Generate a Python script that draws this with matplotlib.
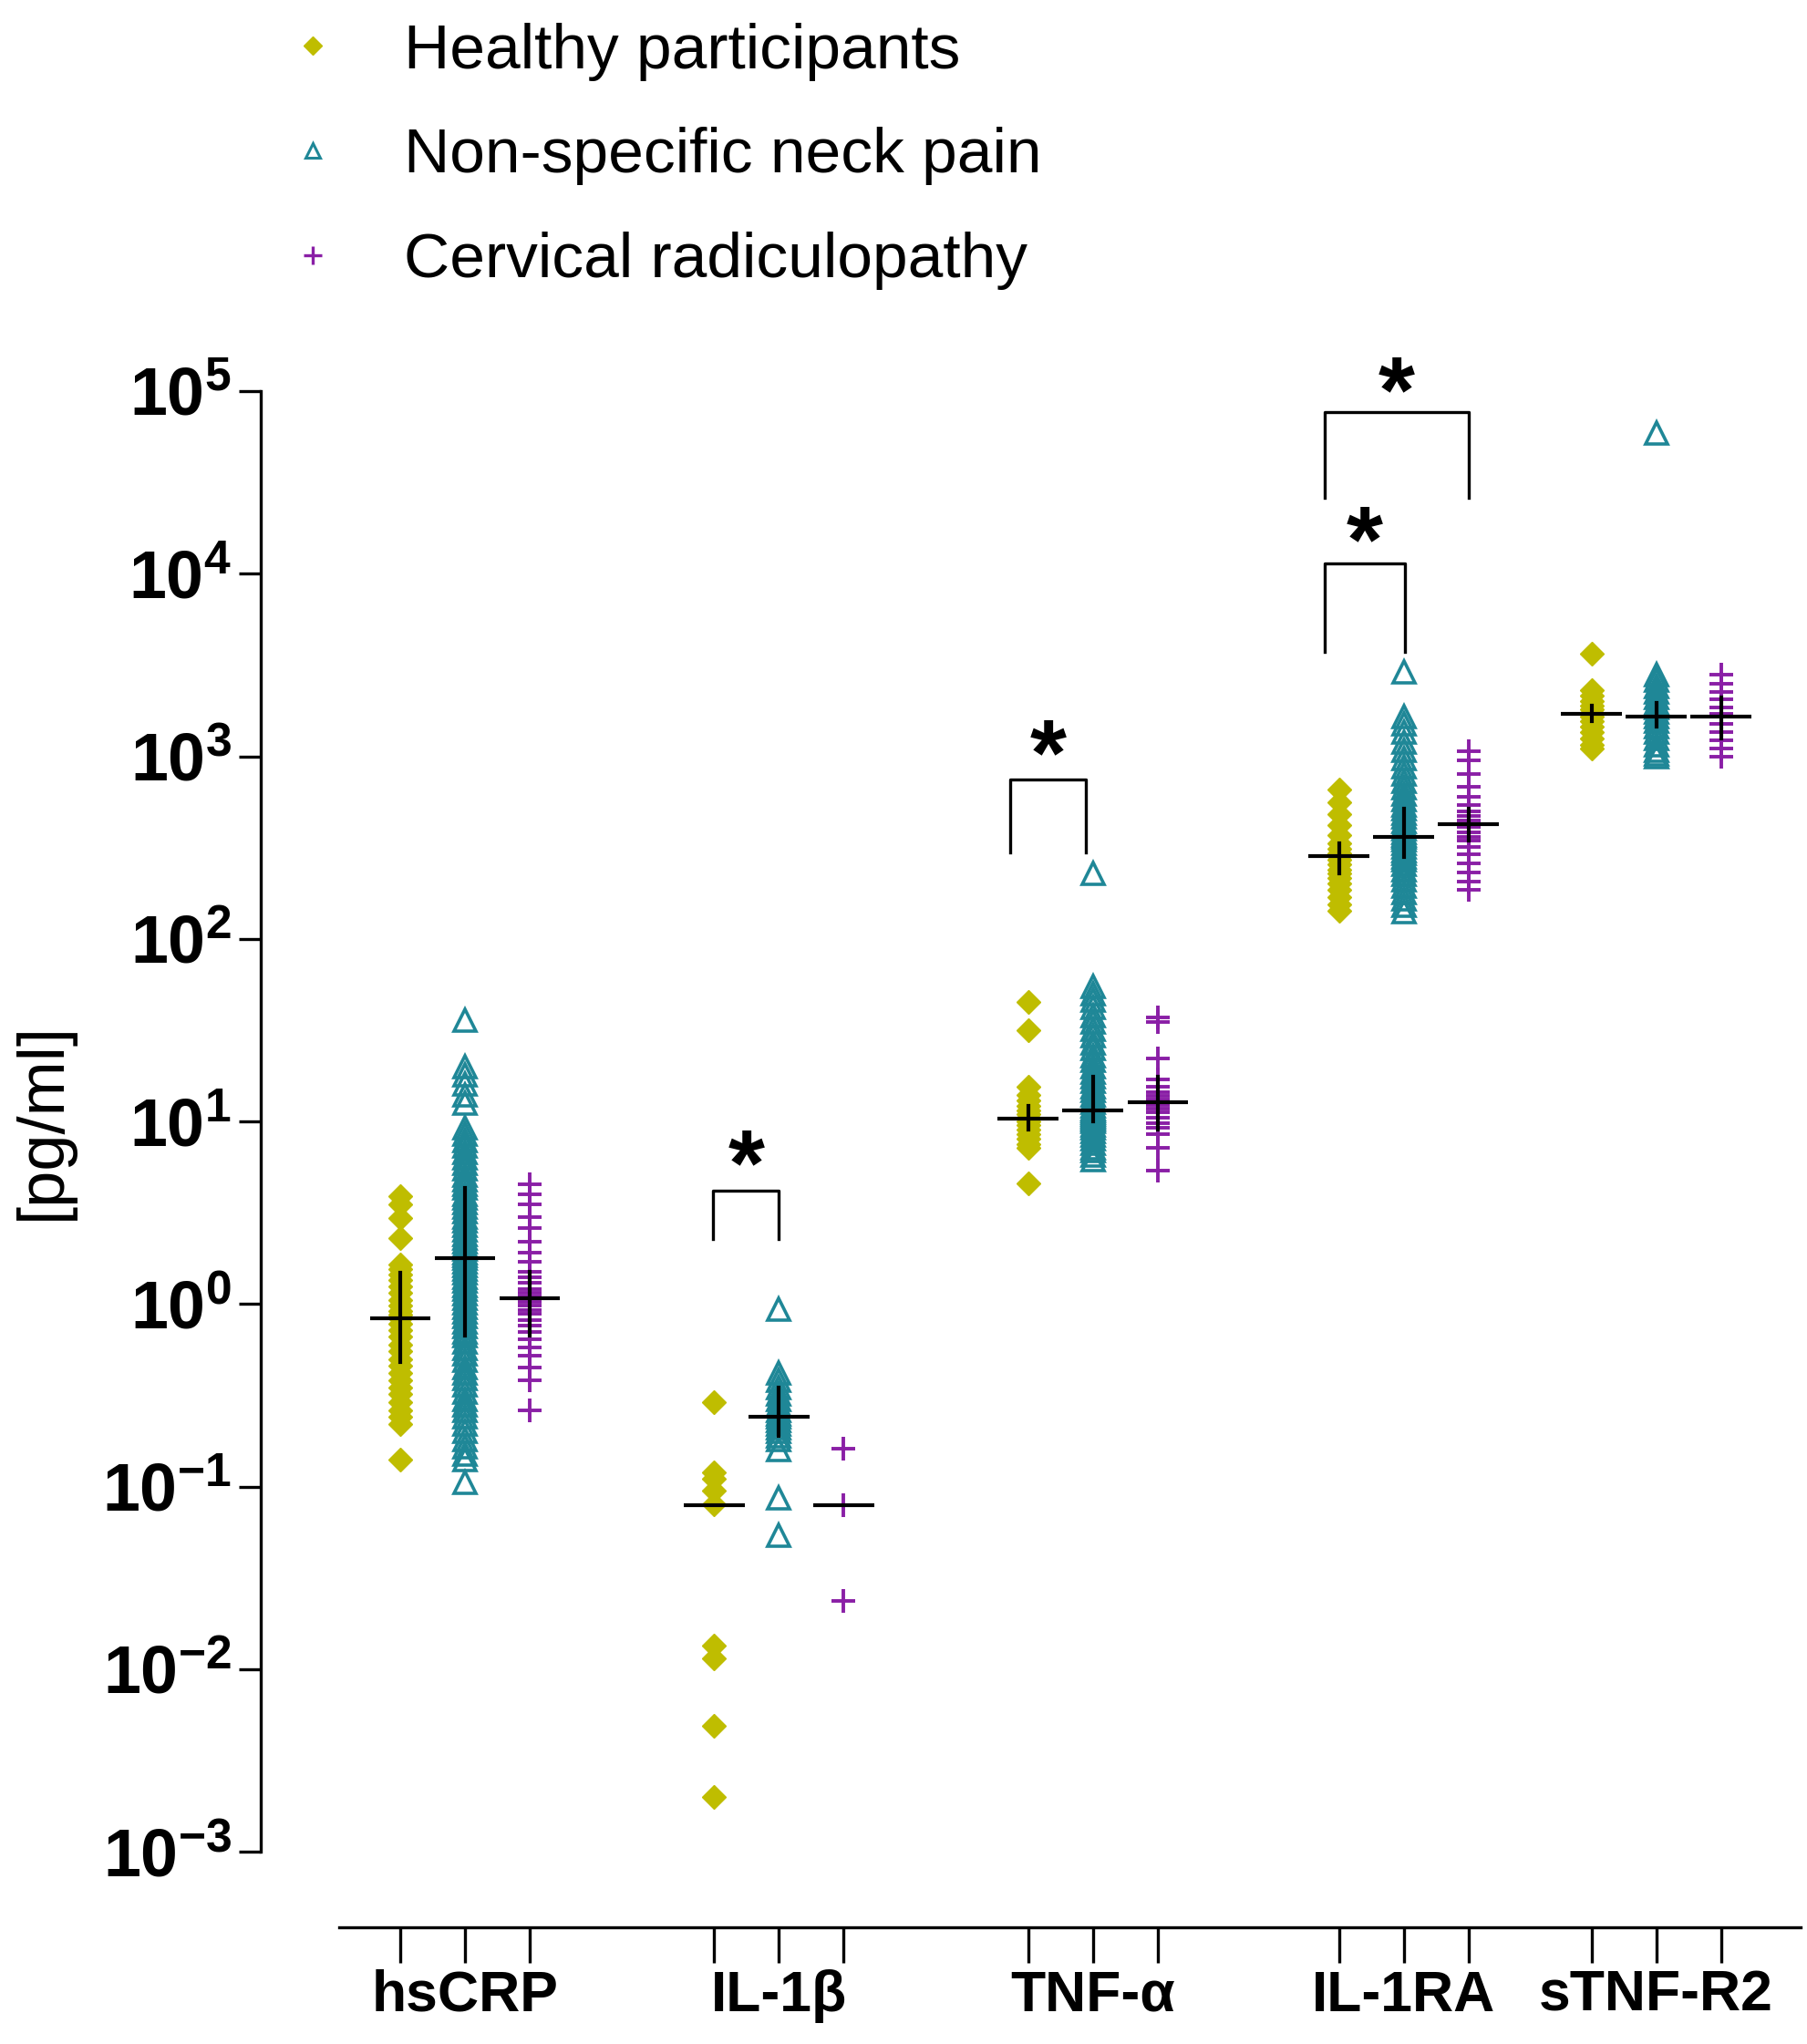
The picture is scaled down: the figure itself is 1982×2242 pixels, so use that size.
import numpy as np
import matplotlib
matplotlib.use("Agg")
import matplotlib.pyplot as plt
from matplotlib.lines import Line2D
from matplotlib.ticker import NullLocator

plt.rcParams["font.family"] = ["Liberation Sans", "DejaVu Sans"]
plt.rcParams["mathtext.fontset"] = "custom"
plt.rcParams["mathtext.rm"] = "Liberation Sans:bold"
plt.rcParams["mathtext.bf"] = "Liberation Sans:bold"
plt.rcParams["mathtext.default"] = "bf"

cytokines = ["hsCRP", "IL-1β", "TNF-α", "IL-1RA", "sTNF-R2"]
groups = ["Healthy participants", "Non-specific neck pain", "Cervical radiculopathy"]

# pg/ml values, one list per column
hscrp_healthy = [3.9, 3.5, 2.95, 2.3, 1.65, 1.55, 1.45, 1.35, 1.25, 1.15, 1.05, 0.98,
                 0.92, 0.87, 0.83, 0.78, 0.72, 0.66, 0.6, 0.55, 0.5, 0.46, 0.42, 0.38,
                 0.35, 0.32, 0.29, 0.26, 0.24, 0.22, 0.14]
hscrp_neck = [36, 20, 18, 16, 14, 12.6, 9.2, 8.5, 7.9, 7.3, 6.8, 6.3, 5.9, 5.5, 5.1,
              4.8, 4.5, 4.3, 4.0, 3.8, 3.6, 3.4, 3.2, 3.0, 2.85, 2.7, 2.55, 2.4, 2.3,
              2.2, 2.1, 2.0, 1.9, 1.85, 1.78, 1.7, 1.62, 1.55, 1.48, 1.4, 1.33, 1.26,
              1.2, 1.14, 1.08, 1.02, 0.96, 0.9, 0.85, 0.8, 0.75, 0.7, 0.67, 0.62, 0.57,
              0.53, 0.49, 0.45, 0.42, 0.39, 0.36, 0.33, 0.3, 0.28, 0.26, 0.24, 0.22,
              0.2, 0.18, 0.165, 0.15, 0.14, 0.105]
hscrp_radic = [4.5, 4.0, 3.5, 3.0, 2.6, 2.2, 1.9, 1.7, 1.5, 1.4, 1.3, 1.2, 1.15, 1.1,
               1.07, 1.03, 0.98, 0.93, 0.88, 0.82, 0.76, 0.7, 0.64, 0.58, 0.52, 0.45,
               0.38, 0.26]

il1b_healthy = [0.29, 0.12, 0.11, 0.095, 0.08, 0.0135, 0.0114, 0.0049, 0.002]
il1b_neck = [0.94, 0.42, 0.38, 0.35, 0.32, 0.3, 0.28, 0.26, 0.25, 0.24, 0.23, 0.22,
             0.21, 0.2, 0.19, 0.18, 0.16, 0.087, 0.054]
il1b_radic = [0.162, 0.079, 0.0235]

tnfa_healthy = [45, 31.6, 15.5, 14, 13, 12.2, 11.5, 11, 10.5, 10.3, 10, 9.5, 9.0,
                8.5, 8, 7.5, 7.2, 4.6]
tnfa_neck = [227, 55, 50, 46, 42, 38, 35, 32, 29.5, 27, 25, 23, 21.5, 20, 18.5, 17.5,
             16.5, 15.5, 14.7, 14, 13.3, 12.7, 12.1, 11.8, 11.5, 11.2, 11, 10.7, 10.5,
             10.2, 10, 9.6, 9.2, 8.8, 8.4, 8, 7.6, 7.2, 6.9, 6.5, 6.2]
tnfa_radic = [37, 35, 22, 17, 15.5, 14.5, 13.8, 13.2, 12.8, 12.3, 11.8, 11.2, 10.5,
              9.8, 9.2, 8.5, 7.2, 5.4]

il1ra_healthy = [655, 560, 480, 420, 370, 335, 310, 295, 283, 270, 255, 240, 228,
                 215, 200, 185, 170, 155, 142]
il1ra_neck = [2900, 1650, 1500, 1350, 1200, 1080, 970, 880, 800, 730, 670, 620, 580,
              540, 518, 490, 465, 440, 420, 400, 385, 370, 360, 350, 335, 320, 305,
              295, 282, 270, 255, 240, 225, 210, 195, 180, 165, 152, 140]
il1ra_radic = [1070, 950, 800, 680, 600, 540, 500, 470, 445, 427, 410, 385, 360, 346,
               320, 290, 260, 230, 205, 186]

stnfr2_healthy = [3650, 2300, 2150, 2000, 1900, 1800, 1720, 1650, 1550, 1450, 1350,
                  1250, 1150, 1100]
stnfr2_neck = [59000, 2800, 2600, 2400, 2250, 2100, 1950, 1850, 1750, 1640, 1550,
               1450, 1350, 1250, 1150, 1080, 1030, 990]
stnfr2_radic = [2800, 2500, 2250, 2050, 1850, 1700, 1640, 1500, 1350, 1220, 1100, 990]

healthy_values = [hscrp_healthy, il1b_healthy, tnfa_healthy, il1ra_healthy, stnfr2_healthy]
neck_values = [hscrp_neck, il1b_neck, tnfa_neck, il1ra_neck, stnfr2_neck]
radic_values = [hscrp_radic, il1b_radic, tnfa_radic, il1ra_radic, stnfr2_radic]

# median with interquartile range, as drawn
nan = np.nan
healthy_median = [0.83, 0.079, 10.3, 283, 1700]
healthy_q1 = [0.48, nan, 9.0, 228, 1550]
healthy_q3 = [1.48, nan, 12.2, 335, 1900]
neck_median = [1.78, 0.24, 11.5, 360, 1640]
neck_q1 = [0.67, 0.19, 10.0, 282, 1450]
neck_q3 = [4.3, 0.35, 17.5, 518, 1950]
radic_median = [1.07, 0.079, 12.8, 427, 1640]
radic_q1 = [0.67, nan, 9.0, 346, 1250]
radic_q3 = [1.5, nan, 17.5, 518, 2100]

# significance brackets
sig_left = [4.83, 9.42, 14.28, 14.28]
sig_right = [5.85, 10.59, 15.52, 16.5]
sig_top = [4.18, 743, 11400, 76900]
sig_leg = [2.27, 296, 3730, 25900]
sig_star = [7.7, 1350, 20000, 132000]

# layout
group_start = [0, 4.85, 9.7, 14.5, 18.4]
colors = ["#bfbd00", "#1f8797", "#8a1fa6"]

fig = plt.figure(figsize=(19.83, 22.42), dpi=100)
ax = fig.add_axes([286 / 1983, 1 - 2031 / 2242, 1694 / 1983, 1602 / 2242])

# spines first: moving a spine resets the ticks
for side in ["top", "right"]:
    ax.spines[side].set_visible(False)
ax.spines["left"].set_linewidth(2.4)
ax.spines["bottom"].set_linewidth(2.4)
ax.spines["bottom"].set_position(("outward", 59.8))

series = [healthy_values, neck_values, radic_values]
medians = [healthy_median, neck_median, radic_median]
q1s = [healthy_q1, neck_q1, radic_q1]
q3s = [healthy_q3, neck_q3, radic_q3]

col_x = []
col_labels = []
for i, start in enumerate(group_start):
    for j in range(3):
        x = start + j
        col_x.append(x)
        col_labels.append(cytokines[i] if j == 1 else "")
        vals = series[j][i]
        xs = [x] * len(vals)
        if j == 0:
            ax.plot(xs, vals, "D", ms=13, color=colors[0], mec=colors[0], mew=1,
                    ls="none", clip_on=False, zorder=2)
        elif j == 1:
            ax.plot(xs, vals, "^", ms=17, mfc="none", mec=colors[1], mew=2.6,
                    ls="none", clip_on=False, zorder=2)
        else:
            ax.plot(xs, vals, "+", ms=19, color=colors[2], mew=2.8,
                    ls="none", clip_on=False, zorder=2)
        ax.plot([x - 0.47, x + 0.47], [medians[j][i]] * 2, color="black", lw=3.0,
                zorder=3, solid_capstyle="butt")
        if not np.isnan(q1s[j][i]):
            ax.plot([x, x], [q1s[j][i], q3s[j][i]], color="black", lw=3.0, zorder=3)

for xl, xr, yt, yl, ys in zip(sig_left, sig_right, sig_top, sig_leg, sig_star):
    ax.plot([xl, xl, xr, xr], [yl, yt, yt, yl], color="black", lw=2.4,
            clip_on=False, zorder=3)
    ax.annotate("*", xy=((xl + xr) / 2, ys), xytext=(0, -42), textcoords="offset points",
                ha="center", va="baseline", fontsize=74, fontweight="bold",
                annotation_clip=False)

ax.set_yscale("log")
ax.set_ylim(1e-3, 1e5)
ax.set_xlim(-2.155, 21.70)
yt = [10.0 ** k for k in range(-3, 6)]
ax.tick_params(axis="y", length=17, width=2.4, pad=6, labelsize=53)
ax.set_yticks(yt, [r"$10^{%d}$" % k for k in range(-3, 6)])
ax.yaxis.set_minor_locator(NullLocator())

ax.tick_params(axis="x", length=28, width=2.4, pad=5, labelsize=45)
ax.set_xticks(col_x, col_labels, fontweight="bold")
ax.spines["bottom"].set_bounds(-0.94, 21.63)

ax.set_ylabel("[pg/ml]", fontsize=52)
ax.yaxis.set_label_coords(-0.121, 0.5)

handles = [
    Line2D([], [], marker="D", ms=10, color=colors[0], ls="none"),
    Line2D([], [], marker="^", ms=12, mfc="none", mec=colors[1], mew=2.2, ls="none"),
    Line2D([], [], marker="+", ms=14, color=colors[2], mew=2.4, ls="none"),
]
fig.legend(handles, groups, loc="upper left", bbox_to_anchor=(308 / 1983, 0.989),
           frameon=False, fontsize=50, handlelength=1.0, handletextpad=0.95,
           labelspacing=0.73, borderpad=0, borderaxespad=0)

fig.savefig("out.png", dpi=100)
